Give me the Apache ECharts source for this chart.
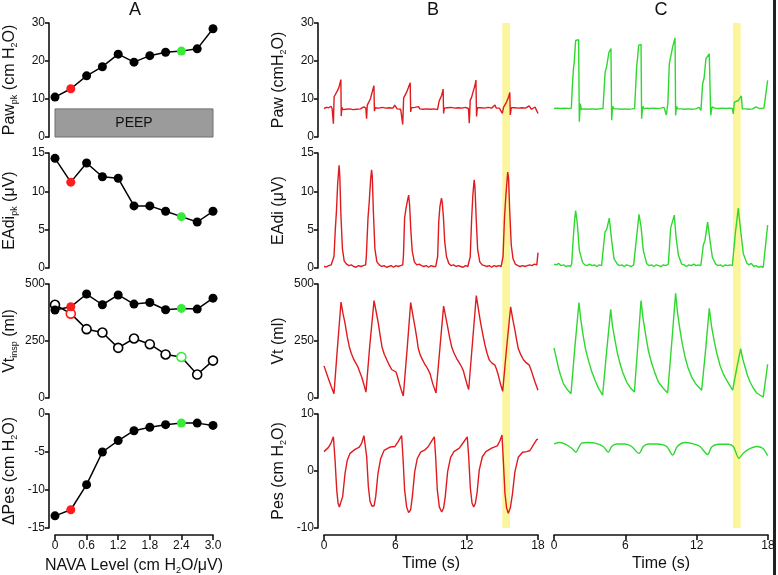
<!DOCTYPE html>
<html>
<head>
<meta charset="utf-8">
<script src="https://cdn.jsdelivr.net/npm/echarts@6/dist/echarts.min.js"></script>
<style>
  html, body { margin: 0; padding: 0; background: #fff; }
  #main { width: 778px; height: 575px; }
</style>
</head>
<body>
<div id="main"></div>
<script>
// ---- panel A: summary values per NAVA level ----
var navaLevels = [0, 0.3, 0.6, 0.9, 1.2, 1.5, 1.8, 2.1, 2.4, 2.7, 3.0];
var pawPk = [10.5, 12.7, 16.1, 18.5, 21.8, 19.7, 21.4, 22.3, 22.6, 23.2, 28.5];
var eadiPk = [14.3, 11.2, 13.7, 11.9, 11.7, 8.1, 8.1, 7.4, 6.7, 6.0, 7.4];
var vtInspFilled = [386, 400, 456, 409, 452, 412, 419, 387, 393, 390, 438];
var vtInspOpen = [409, 370, 302, 287, 220, 261, 236, 191, 180, 103, 164];
var dPes = [-13.4, -12.6, -9.3, -5.0, -3.5, -2.2, -1.75, -1.4, -1.2, -1.2, -1.5];
var peepLevel = 7.4;
var redIdx = 1, greenIdx = 8;

// ---- panel B: traces at low NAVA level, [time s, value] ----
var pawB = [[0,7.5],[0.1,7.2],[0.2,7.8],[0.3,7.3],[0.4,7.7],[0.5,7.3],[0.59,8.1],[0.68,7.5],[0.74,7.6],[0.79,3.5],[0.85,10.6],[0.92,10.2],[0.98,10.8],[1.1,12.0],[1.25,13.0],[1.42,15.1],[1.45,5.5],[1.5,7.8],[1.58,7.2],
  [1.7,7.6],[1.85,7.3],[2.0,7.7],[2.15,7.4],[2.3,7.8],[2.45,7.2],[2.6,7.6],[2.75,7.3],[2.9,7.7],[3.05,7.4],[3.2,7.6],[3.35,7.9],
  [3.45,8.3],[3.52,7.6],[3.58,4.8],[3.64,8.4],[3.75,8.8],[3.9,10.0],[4.05,11.8],[4.2,13.5],[4.24,6.8],[4.3,7.7],[4.45,7.3],[4.6,7.6],[4.75,7.4],[4.9,7.8],[5.05,7.3],[5.2,7.6],[5.35,7.4],[5.5,7.7],[5.65,7.2],[5.8,7.6],[5.95,8.4],[6.05,8.3],[6.15,7.4],[6.3,7.7],[6.45,7.3],[6.58,7.5],
  [6.62,3.3],[6.7,10.3],[6.8,10.8],[6.95,11.8],[7.1,13.0],[7.25,14.3],[7.29,6.6],[7.35,7.7],[7.5,7.4],[7.65,7.8],[7.8,7.3],[7.95,8.0],[8.05,7.4],[8.2,7.6],[8.35,7.3],[8.5,7.7],[8.65,7.4],[8.8,7.8],[8.95,7.3],[9.1,7.6],[9.25,7.4],[9.4,7.7],[9.55,7.2],
  [9.62,7.0],[9.68,9.4],[9.75,9.9],[9.9,11.0],[10.02,12.6],[10.06,6.2],[10.12,7.6],[10.25,7.3],[10.4,7.7],[10.55,7.4],[10.7,7.8],[10.85,7.3],[11.0,7.6],[11.15,7.4],[11.3,7.7],[11.45,7.3],[11.6,7.6],[11.75,7.4],[11.9,7.8],[12.05,7.3],[12.15,7.5],
  [12.22,3.6],[12.3,9.7],[12.4,10.3],[12.55,12.0],[12.7,13.6],[12.78,15.0],[12.83,5.4],[12.9,7.7],[13.05,7.3],[13.2,7.7],[13.35,7.4],[13.5,7.6],[13.65,7.3],[13.8,7.8],[13.95,7.4],[14.1,7.6],[14.25,7.3],[14.38,8.4],[14.48,7.6],[14.6,7.3],[14.75,7.6],[14.9,7.4],
  [15.0,6.2],[15.1,7.8],[15.2,8.3],[15.35,9.2],[15.5,10.3],[15.63,11.7],[15.67,5.8],[15.75,7.7],[15.9,7.3],[16.05,7.7],[16.2,7.4],[16.35,7.6],[16.5,7.3],[16.65,7.7],[16.8,7.4],[16.95,7.6],[17.1,7.3],[17.25,8.2],[17.35,8.0],[17.45,7.3],[17.6,7.6],[17.75,7.9],[17.85,7.2],[17.95,6.9],[18.0,6.2]];

var eadiB = [[0,0.2],[0.2,0.15],[0.4,0.3],[0.6,0.4],[0.75,0.5],[0.84,1.5],[0.95,5.0],[1.05,7.5],[1.15,11.0],[1.27,13.4],[1.33,12.0],[1.42,7.0],[1.55,2.5],[1.7,0.9],[1.9,0.5],[2.1,0.3],[2.3,0.4],[2.5,0.2],[2.7,0.1],[2.9,0.3],[3.1,0.2],[3.3,0.3],[3.5,0.4],
  [3.56,1.5],[3.7,6.5],[3.8,8.5],[3.92,11.5],[4.0,12.8],[4.06,12.0],[4.15,7.5],[4.28,2.5],[4.45,0.8],[4.65,0.4],[4.85,0.2],[5.05,0.3],[5.25,0.1],[5.45,0.2],[5.65,0.3],[5.85,0.1],[6.05,0.3],[6.25,0.2],[6.45,0.3],[6.62,0.4],
  [6.68,1.5],[6.78,6.5],[6.9,7.8],[7.02,8.8],[7.12,9.5],[7.2,8.2],[7.3,5.0],[7.42,2.2],[7.6,0.8],[7.8,0.4],[8.0,0.5],[8.2,0.3],[8.4,0.2],[8.6,0.3],[8.8,0.1],[9.0,0.3],[9.2,0.2],[9.4,0.2],[9.52,0.3],
  [9.56,1.5],[9.65,6.0],[9.75,8.0],[9.88,9.1],[9.95,8.5],[10.05,6.5],[10.15,3.5],[10.3,1.5],[10.5,0.6],[10.7,0.3],[10.9,0.4],[11.1,0.2],[11.3,0.3],[11.5,0.2],[11.7,0.1],[11.9,0.3],[12.1,0.2],[12.25,0.3],
  [12.3,1.5],[12.42,6.5],[12.52,9.5],[12.63,11.5],[12.7,10.5],[12.8,6.5],[12.92,2.5],[13.1,0.8],[13.3,0.4],[13.5,0.3],[13.7,0.2],[13.9,0.3],[14.1,0.1],[14.3,0.3],[14.5,0.2],[14.7,0.3],[14.9,0.2],[15.0,0.4],
  [15.06,1.5],[15.18,6.5],[15.3,9.5],[15.45,12.5],[15.52,11.8],[15.62,7.5],[15.75,3.0],[15.9,1.2],[16.1,0.5],[16.3,0.3],[16.5,0.2],[16.7,0.3],[16.9,0.2],[17.1,0.3],[17.3,0.4],[17.5,0.3],[17.7,0.5],[17.9,0.4],[17.95,0.5],[18.0,2.0]];

var vtB = [[0,141],[0.3,95],[0.6,52],[0.84,19],[1.1,200],[1.43,421],[1.6,370],[1.77,327],[1.95,270],[2.13,224],[2.3,195],[2.47,173],[2.65,155],[2.83,139],[3.0,115],[3.17,92],[3.35,60],[3.53,26],
  [3.85,230],[4.21,427],[4.4,375],[4.57,327],[4.72,275],[4.88,224],[5.07,192],[5.27,169],[5.48,145],[5.69,125],[5.85,118],[6.06,114],[6.2,90],[6.34,63],[6.5,35],[6.67,9],
  [7.0,220],[7.29,419],[7.47,365],[7.65,312],[7.8,265],[7.93,217],[8.1,188],[8.3,166],[8.46,150],[8.63,136],[8.78,122],[8.92,107],[9.15,62],[9.42,22],
  [9.75,220],[10.06,403],[10.23,358],[10.4,312],[10.57,265],[10.74,224],[10.95,195],[11.16,173],[11.37,155],[11.58,136],[11.72,120],[11.86,92],[12.0,65],[12.17,37],
  [12.5,250],[12.81,449],[13.0,385],[13.18,327],[13.36,278],[13.54,232],[13.72,195],[13.91,166],[14.15,152],[14.38,144],[14.52,125],[14.66,100],[14.85,60],[15.03,29],
  [15.35,215],[15.7,400],[15.88,345],[16.06,298],[16.2,255],[16.34,217],[16.55,190],[16.76,169],[17.0,155],[17.27,144],[17.44,120],[17.61,92],[17.8,62],[18.0,34]];

var pesB = [[0,3.4],[0.36,4.1],[0.59,4.9],[0.79,6.0],[0.93,1.9],[1.07,-3.3],[1.18,-5.6],[1.29,-6.3],[1.43,-6.1],[1.57,-4.5],[1.77,-0.4],[1.96,1.9],[2.19,3.1],[2.61,3.8],[2.97,4.2],[3.17,4.9],[3.36,6.2],[3.48,6.4],
  [3.59,2.5],[3.73,-2.7],[3.87,-5.3],[4.04,-6.2],[4.21,-6.1],[4.35,-4.5],[4.54,-0.4],[4.77,2.2],[5.05,3.6],[5.55,4.2],[5.97,4.3],[6.25,5.2],[6.53,6.2],
  [6.64,2.5],[6.78,-3.3],[6.95,-6.3],[7.12,-7.3],[7.29,-6.8],[7.43,-4.5],[7.63,-0.1],[7.85,2.2],[8.13,3.3],[8.49,3.7],[8.77,4.3],[9.06,5.3],[9.28,6.0],
  [9.39,2.5],[9.53,-3.3],[9.7,-6.3],[9.9,-7.2],[10.06,-6.5],[10.2,-4.5],[10.4,-0.1],[10.65,2.4],[10.93,3.4],[11.38,4.0],[11.72,5.0],[12.05,6.0],
  [12.17,2.5],[12.31,-3.0],[12.45,-5.6],[12.59,-6.3],[12.73,-5.7],[12.87,-3.9],[13.06,0.2],[13.32,2.5],[13.62,3.4],[14.1,4.0],[14.58,4.4],[14.8,5.3],[14.97,6.3],
  [15.08,2.0],[15.22,-3.9],[15.36,-6.5],[15.5,-7.4],[15.67,-6.5],[15.84,-4.2],[16.06,-0.1],[16.34,2.4],[16.7,3.3],[17.05,3.4],[17.33,3.6],[17.61,4.6],[17.89,5.5],[18.0,5.6]];

// ---- panel C: traces at high NAVA level ----
var pawC = [[0,7.5],[0.15,7.3],[0.3,7.6],[0.45,7.4],[0.6,7.5],[0.75,7.3],[0.9,7.6],[1.05,7.4],[1.2,7.5],[1.35,7.4],
  [1.46,7.6],[1.52,12.0],[1.63,17.8],[1.7,19.5],[1.82,25.4],[2.07,25.6],[2.13,4.0],[2.21,8.8],[2.3,7.3],
  [2.45,7.6],[2.6,7.4],[2.75,7.5],[2.9,7.3],[3.05,7.6],[3.2,7.4],[3.35,7.5],[3.5,7.3],[3.65,7.6],[3.8,7.4],[3.95,7.5],
  [4.12,7.5],[4.3,17.0],[4.43,18.6],[4.62,22.3],[4.79,23.3],[4.85,4.4],[4.93,8.1],[5.05,7.4],[5.2,7.6],[5.35,7.4],[5.5,7.5],[5.65,7.3],[5.8,7.6],[5.95,7.4],[6.1,7.5],[6.25,7.3],[6.4,7.6],[6.55,7.4],
  [6.78,7.5],[6.95,18.4],[7.05,21.5],[7.12,24.1],[7.32,24.4],[7.37,4.8],[7.46,8.1],[7.58,7.4],[7.75,7.6],[7.9,7.4],[8.05,7.5],[8.2,7.3],[8.35,7.6],[8.5,7.4],[8.65,7.5],[8.8,7.3],[8.95,7.6],[9.1,7.4],[9.25,7.8],[9.35,8.2],
  [9.45,5.8],[9.58,9.0],[9.7,19.3],[9.98,23.7],[10.18,26.1],[10.23,5.7],[10.3,8.1],[10.4,7.4],[10.55,7.6],[10.7,7.4],[10.85,7.5],[11.0,7.3],[11.15,7.6],[11.3,7.4],[11.45,7.5],[11.6,7.3],[11.75,7.6],[11.9,7.4],[12.05,7.5],[12.2,7.8],
  [12.36,7.0],[12.5,14.0],[12.62,15.4],[12.78,20.6],[13.06,21.9],[13.18,5.7],[13.29,7.9],[13.4,7.4],[13.55,7.6],[13.7,7.4],[13.85,7.5],[14.0,7.3],[14.15,7.6],[14.3,7.4],[14.45,7.5],[14.6,7.3],[14.75,7.6],[14.9,7.4],[15.0,7.5],
  [15.08,6.1],[15.17,9.2],[15.5,9.6],[15.64,10.1],[15.76,10.8],[15.84,7.4],[15.95,7.6],[16.1,7.4],[16.25,7.5],[16.4,7.3],[16.55,7.6],[16.7,7.4],[16.85,7.6],[17.0,7.9],[17.1,7.4],[17.25,7.5],[17.4,7.4],[17.66,7.6],[17.97,14.9]];

var eadiC = [[0,0.5],[0.2,0.4],[0.4,0.6],[0.6,0.3],[0.8,0.4],[1.0,0.2],[1.2,0.3],[1.4,0.2],
  [1.49,0.6],[1.63,4.1],[1.75,6.5],[1.82,7.5],[1.96,5.8],[2.13,2.3],[2.41,0.7],[2.6,0.4],[2.8,0.3],[3.0,0.5],[3.2,0.3],[3.4,0.4],[3.6,0.2],[3.8,0.4],[4.0,0.3],
  [4.1,0.5],[4.29,4.7],[4.43,5.0],[4.65,6.5],[4.85,3.6],[5.05,1.2],[5.33,0.5],[5.5,0.3],[5.7,0.4],[5.9,0.2],[6.1,0.4],[6.3,0.3],[6.5,0.2],[6.7,0.4],
  [6.81,0.5],[6.95,4.1],[7.15,7.0],[7.32,5.4],[7.51,2.3],[7.79,0.6],[8.0,0.3],[8.2,0.4],[8.4,0.2],[8.6,0.4],[8.8,0.3],[9.0,0.2],[9.2,0.4],[9.4,0.3],[9.55,0.4],
  [9.62,0.5],[9.81,5.2],[9.9,5.3],[10.12,6.9],[10.26,4.1],[10.46,1.7],[10.74,0.5],[10.95,0.4],[11.15,0.2],[11.35,0.4],[11.55,0.3],[11.75,0.5],[11.95,0.3],[12.15,0.4],[12.35,0.3],
  [12.42,0.5],[12.56,3.0],[12.7,3.6],[12.92,6.0],[13.12,3.6],[13.32,1.4],[13.6,0.5],[13.8,0.3],[14.0,0.4],[14.2,0.2],[14.4,0.4],[14.6,0.3],[14.8,0.4],[15.0,0.3],
  [15.08,0.5],[15.25,4.5],[15.5,7.8],[15.7,4.9],[15.92,1.9],[16.2,0.7],[16.4,0.4],[16.6,0.6],[16.8,0.2],[17.0,0.3],[17.2,0.1],[17.4,0.2],[17.6,0.1],[17.7,0.3],[17.97,5.6]];

var vtC = [[0,220],[0.15,185],[0.36,136],[0.55,100],[0.79,63],[1.1,38],[1.43,19],[1.75,220],[2.1,419],[2.25,345],[2.47,268],[2.65,215],[2.89,166],[3.15,120],[3.45,78],[3.75,42],[4.09,12],
  [4.42,200],[4.77,389],[4.92,315],[5.13,254],[5.32,200],[5.55,151],[5.8,110],[6.11,70],[6.42,45],[6.76,26],
  [7.05,230],[7.32,427],[7.5,345],[7.74,268],[7.95,205],[8.22,151],[8.5,108],[8.78,70],[9.15,45],[9.56,22],
  [9.9,240],[10.23,459],[10.4,370],[10.6,298],[10.8,235],[11.02,180],[11.28,132],[11.58,92],[11.95,60],[12.42,34],
  [12.75,210],[13.06,393],[13.25,315],[13.46,254],[13.7,195],[13.96,144],[14.22,108],[14.52,78],[14.78,55],[15.03,34],
  [15.35,125],[15.7,216],[15.88,170],[16.07,136],[16.27,100],[16.49,70],[16.75,45],[17.05,22],[17.35,12],[17.6,4],[17.97,148]];

var pesC = [[0,4.75],[0.5,5.0],[1.06,4.6],[1.49,4.0],[1.85,3.3],[2.05,4.0],[2.33,4.9],[2.89,5.0],[3.45,4.9],[4.15,4.3],[4.57,3.3],[4.85,4.3],[5.27,4.75],[5.97,4.75],[6.53,4.3],[7.15,3.1],[7.51,4.3],[7.93,4.75],[8.64,4.75],[9.48,4.3],[9.98,2.8],[10.37,4.3],[11.02,5.0],[11.72,4.75],[12.28,4.3],[12.92,2.9],[13.26,4.2],[13.82,4.7],[14.66,4.7],[15.08,4.3],[15.56,2.25],[15.92,3.1],[16.35,3.8],[17.05,4.3],[17.55,4.0],[17.97,2.7]];

// highlighted breath (time window, s)
var bandB = [15.0, 15.65];
var bandC = [15.05, 15.7];
var timeTicks = [0, 18, 6];

var RED = '#e01b1f', GREEN = '#2fd82f', RED_DOT = '#ff1c1c', GREEN_DOT = '#36ec36';
var FONT = '"Liberation Sans", Arial, sans-serif';
var INK = '#111';

var rows = [{top: 23, h: 114}, {top: 153, h: 115}, {top: 284, h: 114}, {top: 414, h: 114}];
var cols = [{left: 55, w: 158}, {left: 324, w: 214}, {left: 554, w: 214}];

var rich = {
  n: {fontSize: 16, lineHeight: 19, fontFamily: FONT, color: INK},
  s: {fontSize: 9, lineHeight: 8, verticalAlign: 'bottom', fontFamily: FONT, color: INK}
};

var grids = [], xAxes = [], yAxes = [], series = [];

function addGrid(c, r) {
  grids.push({left: cols[c].left, top: rows[r].top, width: cols[c].w, height: rows[r].h, outerBoundsMode: 'none'});
  return grids.length - 1;
}

function xAx(gi, min, max, interval, showIt, name, fmt) {
  xAxes.push({
    gridIndex: gi, type: 'value', min: min, max: max, interval: interval, show: showIt,
    offset: 7, name: name, nameLocation: 'middle', nameGap: 21,
    nameTextStyle: {rich: rich, fontSize: 16, fontFamily: FONT, color: INK},
    axisLine: {show: true, onZero: false, lineStyle: {color: INK, width: 1.6}},
    axisTick: {show: true, length: 5, lineStyle: {color: INK, width: 1.6}},
    axisLabel: {fontSize: 12, color: INK, fontFamily: FONT, margin: 5, formatter: fmt},
    splitLine: {show: false}
  });
}

function yAx(gi, min, max, interval, showIt, name) {
  yAxes.push({
    gridIndex: gi, type: 'value', min: min, max: max, interval: interval, show: showIt,
    offset: 6, name: name, nameLocation: 'middle', nameRotate: 90, nameGap: 30,
    nameTextStyle: {rich: rich, fontSize: 16, fontFamily: FONT, color: INK},
    axisLine: {show: true, onZero: false, lineStyle: {color: INK, width: 1.6}},
    axisTick: {show: true, length: 4, lineStyle: {color: INK, width: 1.6}},
    axisLabel: {fontSize: 12, color: INK, fontFamily: FONT, margin: 4},
    splitLine: {show: false}
  });
}

function dots(vals, open) {
  return navaLevels.map(function (x, i) {
    var c = i === redIdx ? RED_DOT : (i === greenIdx ? GREEN_DOT : '#000');
    return {
      value: [x, vals[i]],
      itemStyle: open ? {color: '#fff', borderColor: c, borderWidth: 1.6} : {color: c, borderColor: c, borderWidth: 0}
    };
  });
}

function dotSeries(gi, vals, open, extra) {
  var s = {
    type: 'line', xAxisIndex: gi, yAxisIndex: gi, data: dots(vals, open),
    symbol: 'circle', symbolSize: 9, showAllSymbol: true,
    lineStyle: {color: '#000', width: 1.5}, z: open ? 3 : 4
  };
  if (extra) for (var k in extra) s[k] = extra[k];
  series.push(s);
}

function traceSeries(gi, data, color, smooth) {
  series.push({
    type: 'line', xAxisIndex: gi, yAxisIndex: gi, data: data, symbol: 'none',
    smooth: smooth || false, lineStyle: {color: color, width: 1.4}, z: 3
  });
}

// ---- yellow highlight bands (full-height grids for B and C) ----
[[1, bandB], [2, bandC]].forEach(function (b) {
  grids.push({left: cols[b[0]].left, top: 23, width: cols[b[0]].w, height: 505, outerBoundsMode: 'none'});
  var gi = grids.length - 1;
  xAxes.push({gridIndex: gi, type: 'value', min: 0, max: 18, show: false});
  yAxes.push({gridIndex: gi, type: 'value', min: 0, max: 1, show: false});
  series.push({
    type: 'line', xAxisIndex: gi, yAxisIndex: gi, data: [[b[1][0], 0.5], [b[1][1], 0.5]],
    symbol: 'none', lineStyle: {opacity: 0}, z: 1, silent: true,
    markArea: {silent: true, itemStyle: {color: '#fbf59c'}, data: [[{xAxis: b[1][0]}, {xAxis: b[1][1]}]]}
  });
});

// ---- panel A ----
var aNames = [
  '{n|Paw}{s|pk}{n| (cm H}{s|2}{n|O)}',
  '{n|EAdi}{s|pk}{n| (μV)}',
  '{n|Vt}{s|insp}{n| (ml)}',
  '{n|ΔPes (cm H}{s|2}{n|O)}'
];
var aRanges = [[0, 30, 10], [0, 15, 5], [0, 500, 250], [-15, 0, 5]];
var aGrid = [];
for (var r = 0; r < 4; r++) {
  var gi = addGrid(0, r);
  aGrid.push(gi);
  xAx(gi, 0, 3.0, 0.6, r === 3, r === 3 ? '{n|NAVA Level (cm H}{s|2}{n|O/μV)}' : '',
      function (v) { return v === 0 ? '0' : v.toFixed(1); });
  yAx(gi, aRanges[r][0], aRanges[r][1], aRanges[r][2], true, aNames[r]);
}
dotSeries(aGrid[0], pawPk, false, {
  markArea: {
    silent: true,
    itemStyle: {color: '#9b9b9b', borderColor: '#6e6e6e', borderWidth: 1},
    label: {show: true, position: 'inside', formatter: 'PEEP', fontSize: 14, fontFamily: FONT, color: INK},
    data: [[{coord: [0, 0]}, {coord: [3.0, peepLevel]}]]
  }
});
dotSeries(aGrid[1], eadiPk, false);
dotSeries(aGrid[2], vtInspOpen, true);
dotSeries(aGrid[2], vtInspFilled, false);
dotSeries(aGrid[3], dPes, false);

// ---- panels B and C ----
var bNames = [
  '{n|Paw (cmH}{s|2}{n|O)}',
  '{n|EAdi (μV)}',
  '{n|Vt (ml)}',
  '{n|Pes (cm H}{s|2}{n|O)}'
];
var bRanges = [[0, 30, 10], [0, 15, 5], [0, 500, 250], [-10, 10, 10]];
var bData = [pawB, eadiB, vtB, pesB];
var cData = [pawC, eadiC, vtC, pesC];
for (var c = 1; c <= 2; c++) {
  for (var r2 = 0; r2 < 4; r2++) {
    var g = addGrid(c, r2);
    xAx(g, timeTicks[0], timeTicks[1], timeTicks[2], r2 === 3, r2 === 3 ? 'Time (s)' : '');
    yAx(g, bRanges[r2][0], bRanges[r2][1], bRanges[r2][2], c === 1, bNames[r2]);
    if (c === 1) traceSeries(g, bData[r2], RED, false);
    else traceSeries(g, cData[r2], GREEN, r2 === 3 ? 0.3 : false);
  }
}

var chart = echarts.init(document.getElementById('main'), null, {renderer: 'canvas'});
chart.setOption({
  animation: false,
  backgroundColor: '#fff',
  grid: grids,
  xAxis: xAxes,
  yAxis: yAxes,
  series: series,
  graphic: [
    {type: 'text', x: 135, y: 1, style: {text: 'A', font: '18px ' + FONT, fill: INK, textAlign: 'center'}},
    {type: 'text', x: 433, y: 1, style: {text: 'B', font: '18px ' + FONT, fill: INK, textAlign: 'center'}},
    {type: 'text', x: 661, y: 1, style: {text: 'C', font: '18px ' + FONT, fill: INK, textAlign: 'center'}},
    {type: 'rect', shape: {x: 773, y: 0, width: 3, height: 575}, style: {fill: '#222'}}
  ]
});
</script>
</body>
</html>
